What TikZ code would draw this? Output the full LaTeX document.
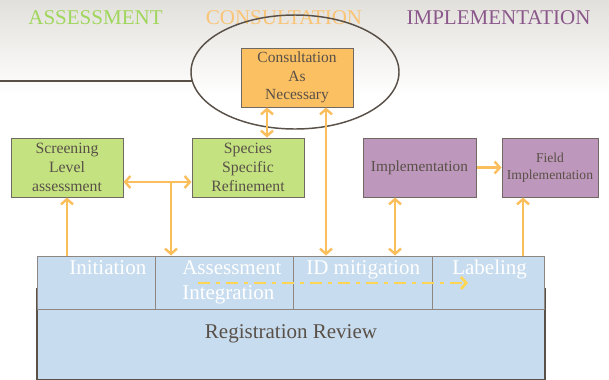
\documentclass[tikz,border=0pt]{standalone}
\usepackage{fontspec}
\setmainfont{Liberation Serif}
\usetikzlibrary{shapes.geometric,arrows.meta}
\definecolor{hdrtop}{RGB}{226,224,219}
\definecolor{hdrgreen}{RGB}{160,214,92}
\definecolor{hdrorange}{RGB}{250,196,118}
\definecolor{hdrpurple}{RGB}{139,88,140}
\definecolor{assessfill}{RGB}{196,227,128}
\definecolor{consultfill}{RGB}{250,192,98}
\definecolor{implfill}{RGB}{190,152,188}
\definecolor{cellfill}{RGB}{199,220,238}
\definecolor{boxline}{RGB}{112,104,98}
\definecolor{boxtext}{RGB}{89,80,72}
\definecolor{flowcol}{RGB}{250,190,92}
\definecolor{dashcol}{RGB}{255,214,84}
\begin{document}
\begin{tikzpicture}[x=.75pt,y=-.75pt,
  box/.style={draw=boxline,line width=.75pt,text=boxtext,align=center,inner sep=0pt},
  assessbox/.style={box,fill=assessfill,minimum width=84pt,minimum height=44.25pt,font=\fontsize{11.8}{14.25}\selectfont},
  consultbox/.style={box,fill=consultfill,minimum width=84pt,minimum height=44.25pt,font=\fontsize{11.6}{13.7}\selectfont},
  implbox/.style={box,fill=implfill,minimum height=44.25pt},
  cell/.style={draw=boxline!80,line width=.75pt,fill=cellfill,minimum height=39.75pt,inner sep=0pt},
  celltext/.style={text=white,inner sep=0pt,font=\fontsize{15.75}{18.75}\selectfont},
  hdr/.style={anchor=base,inner sep=0pt,font=\fontsize{15.75}{18}\selectfont},
  flow/.style={draw=flowcol,line width=1.8pt,>={Straight Barb[length=4pt,width=9pt]}}]
\useasboundingbox (0,0) rectangle (609,379);
\fill[top color=hdrtop,bottom color=white] (0,0) rectangle (609,95);

% headings
\node[hdr,text=hdrgreen] (hassess) at (95.5,24) {ASSESSMENT};
\node[hdr,text=hdrorange] (hconsult) at (284,24) {CONSULTATION};
\node[hdr,text=hdrpurple] (himpl) at (498.5,24) {IMPLEMENTATION};

% consultation
\node[consultbox] (consult) at (297,77.5) {Consultation\\As\\Necessary};
\node[draw=boxtext,line width=1.1pt,ellipse,minimum width=156pt,minimum height=85.5pt,inner sep=0pt] (ring) at (295,72) {};
\coordinate (lnend) at (0,81);
\draw[draw=boxtext,line width=1.1pt] (lnend) -- (lnend -| ring.185);

% assessment and implementation boxes
\node[assessbox] (screen) at (67,167.5) {Screening\\Level\\assessment};
\node[assessbox] (species) at (248,167.5) {Species\\Specific\\Refinement};
\node[implbox,minimum width=84.75pt,font=\fontsize{11.5}{14}\selectfont] (impl) at (419.5,167.5) {Implementation};
\node[implbox,minimum width=72pt,font=\fontsize{10.2}{12.75}\selectfont] (field) at (550,167.5) {Field\\Implementation};

% registration review
\node[box,draw=boxtext,line width=1.2pt,fill=cellfill,minimum width=381pt,minimum height=68.25pt,font=\fontsize{15.75}{18}\selectfont] (review) at (291,334) {Registration Review};
\node[cell,minimum width=88.5pt] (init) at (96,282.5) {};
\node[cell,minimum width=103.5pt] (assess) at (224,282.5) {};
\node[cell,minimum width=104.25pt] (idmit) at (362.5,282.5) {};
\node[cell,minimum width=84pt] (label) at (488,282.5) {};
\node[celltext,anchor=base west] (tinit) at (69,274) {Initiation};
\node[celltext,anchor=base west,align=left] (tassess) at (182,299) {Assessment\\Integration};
\node[celltext,anchor=base west] (tidmit) at (306,274) {ID mitigation};
\node[celltext,anchor=base west] (tlabel) at (452,274) {Labeling};

% flows
\coordinate (jn) at (171,182);
\draw[flow,<->] (consult.south -| 267,0) -- (species.north -| 267,0);
\draw[flow,<->] (screen.east |- jn) -- (species.west |- jn);
\draw[flow,->] (jn) -- (assess.north -| jn);
\draw[flow,->] (screen.south |- init.north) -- (screen.south);
\draw[flow,<->] (idmit.north -| 326,0) -- (consult.south -| 326,0);
\draw[flow,<->] (idmit.north -| 395,0) -- (impl.south -| 395,0);
\draw[flow,->] (impl.east) -- (field.west);
\draw[flow,->] (label.north -| 523,0) -- (field.south -| 523,0);
\coordinate (ddstart) at (198,283);
\coordinate (ddend) at (468,283);
\draw[flow,draw=dashcol,line width=2pt,dash pattern=on 9pt off 4.5pt on 3pt off 4.5pt,->] (ddstart) -- (ddend);
\end{tikzpicture}
\end{document}
